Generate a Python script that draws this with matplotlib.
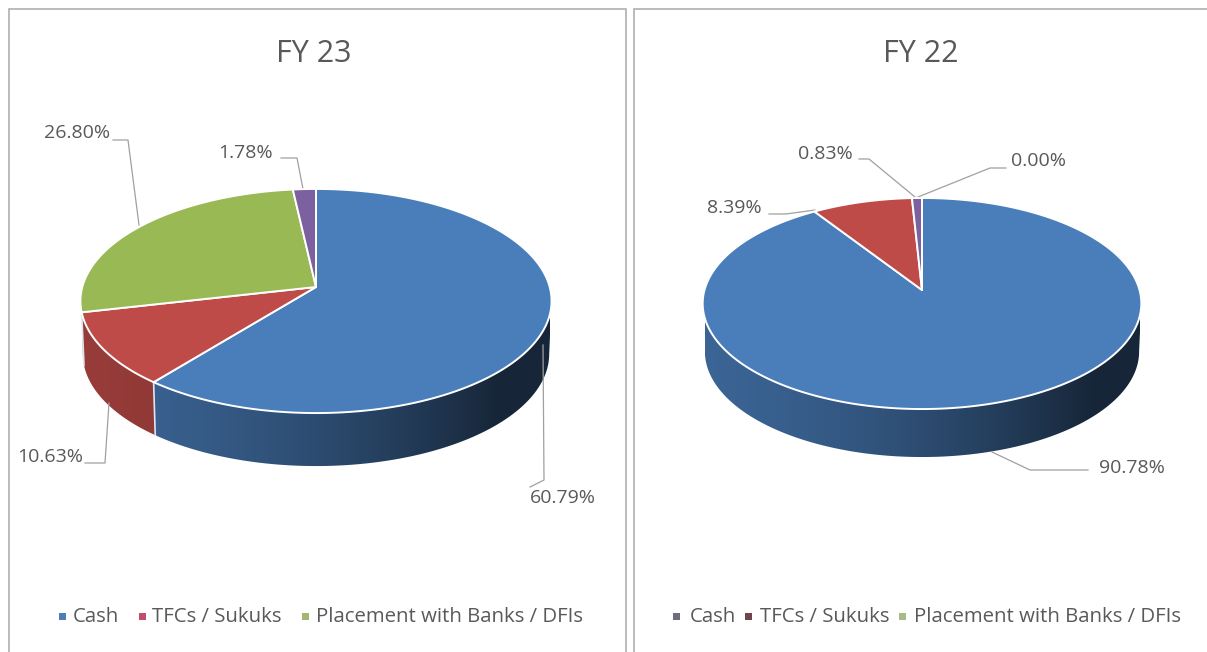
import numpy as np
import matplotlib
matplotlib.use("Agg")
import matplotlib.pyplot as plt
from matplotlib.patches import Polygon, Rectangle
from matplotlib.colors import to_rgb

plt.rcParams['font.family'] = ['Open Sans', 'DejaVu Sans']

# Data (clockwise from 12 o'clock)
categories = ["Cash", "TFCs / Sukuks", "Placement with Banks / DFIs", "Other"]
fy23_values = [60.79, 10.63, 26.80, 1.78]
fy22_values = [90.78, 8.39, 0.00, 0.83]
slice_colors = ["#4a7ebb", "#be4b48", "#98b954", "#7d60a0"]
text_color = "#595959"

W, H = 1207, 652
fig = plt.figure(figsize=(W / 100, H / 100), dpi=100)
ax = fig.add_axes([0, 0, 1, 1])


def rim(theta, cx, cy, A, B, k):
    # perspective projection of the pie rim, theta clockwise from top
    X, Y = np.sin(theta), np.cos(theta)
    w = 1 + k * Y
    return cx + A * X / w, cy - B * Y / w


def draw_pie(values, cx, cy, A, B, k, thick):
    edges = np.radians(np.concatenate([[0], np.cumsum(values)]) * 3.6)

    # only the front part of the wall can be seen: rightmost to leftmost rim point
    all_t = np.linspace(0, 2 * np.pi, 1441)
    all_x, _ = rim(all_t, cx, cy, A, B, k)
    t_right, t_left = all_t[np.argmax(all_x)], all_t[np.argmin(all_x)]

    # side wall, shaded left to right with a clipped gradient
    for i, v in enumerate(values):
        t0, t1 = max(edges[i], t_right), min(edges[i + 1], t_left)
        if v == 0 or t1 <= t0:
            continue
        ts = np.linspace(t0, t1, 200)
        xs, ys = rim(ts, cx, cy, A, B, k)
        xb = cx + (xs - cx) * 0.99
        pts = list(zip(xs, ys)) + list(zip(xb[::-1], ys[::-1] + thick))
        poly = Polygon(pts, closed=True, fc="none", ec="none", zorder=2)
        ax.add_patch(poly)
        pos = np.linspace(-1, 1, 512)
        shade = np.clip(0.60 - 0.30 * pos - 0.10 * pos * pos, 0.3, 0.85)
        grad = np.outer(shade, to_rgb(slice_colors[i]))[None, :, :]
        im = ax.imshow(grad, extent=(cx - A, cx + A, cy + 200, cy - 200), aspect="auto",
                       interpolation="bilinear", zorder=2)
        im.set_clip_path(poly)

    # white seam on the wall where slices meet at the front
    for e in edges[1:-1]:
        if t_right < e < t_left:
            x0, y0 = rim(e, cx, cy, A, B, k)
            ax.plot([x0, cx + (x0 - cx) * 0.99], [y0, y0 + thick], color="#dfe6ee", lw=1.2, zorder=3)

    # top face
    for i, v in enumerate(values):
        if v == 0:
            continue
        ts = np.linspace(edges[i], edges[i + 1], max(int(v * 6), 4))
        xs, ys = rim(ts, cx, cy, A, B, k)
        pts = [(cx, cy)] + list(zip(xs, ys))
        ax.add_patch(Polygon(pts, closed=True, fc=slice_colors[i], ec="white",
                             lw=1.4, joinstyle="round", zorder=4))


def draw_panel(x0, x1, title, title_x):
    ax.add_patch(Rectangle((x0, 8.5), x1 - x0, H, fc="white", ec="#a8a8a8", lw=1.1, zorder=1))
    ax.text(title_x, 54, title, ha="center", va="center", fontsize=22, color=text_color, zorder=6)


def draw_labels(labels):
    for txt, tx, ty, line in labels:
        ax.text(tx, ty + 1, txt, ha="center", va="center", fontsize=14, color=text_color, zorder=6)
        ax.plot(line[0], line[1], color="#a0a0a0", lw=0.9, zorder=3.5)


def draw_legend(items):
    for txt, col, mx, tx in items:
        ax.add_patch(Rectangle((mx, 613), 7, 7, fc=col, ec="none", zorder=6))
        ax.text(tx, 617.5, txt, ha="left", va="center", fontsize=14.7, color=text_color, zorder=6)


draw_panel(8.5, 626, "FY 23", 314)
draw_panel(633.5, 1215, "FY 22", 921)

draw_pie(fy23_values, 316, 287, 233.7, 110.3, 0.125, 53)
draw_pie(fy22_values, 922, 290, 217.5, 103.8, 0.128, 48)

draw_labels([
    ("60.79%", 563, 497, ([543, 544, 530], [345, 480, 487])),
    ("10.63%", 50, 456, ([85, 105, 109], [463, 463, 403])),
    ("26.80%", 77, 132, ([113, 128, 139], [140, 140, 225])),
    ("1.78%", 246, 152, ([281, 297, 303], [158, 158, 189])),
    ("90.78%", 1132, 467, ([992, 1030, 1088], [452, 470, 470])),
    ("8.39%", 734, 207, ([769, 786, 815], [214, 214, 210])),
    ("0.83%", 825, 153, ([859, 869, 915], [159, 159, 197])),
    ("0.00%", 1038, 160, ([1006, 990, 918], [168, 168, 197])),
])

draw_legend([
    (categories[0], "#4f7db5", 59, 73),
    (categories[1], "#c24d6c", 139, 152),
    (categories[2], "#a3b56f", 302, 316),
])
draw_legend([
    (categories[0], "#6d6d7d", 673, 690),
    (categories[1], "#74444e", 745, 760),
    (categories[2], "#a9ba88", 899, 914),
])

ax.set_xlim(0, W)
ax.set_ylim(H, 0)
ax.axis("off")

fig.savefig("out.png", dpi=100, facecolor="white")
